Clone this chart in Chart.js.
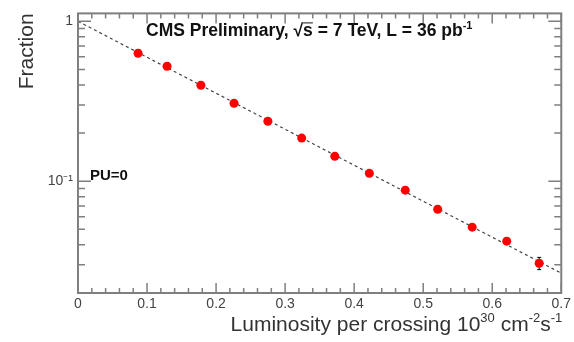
<!DOCTYPE html>
<html>
<head>
<meta charset="utf-8">
<script src="https://cdn.jsdelivr.net/npm/chart.js@4.4.1/dist/chart.umd.min.js"></script>
<style>
  html, body { margin:0; padding:0; background:#fff; }
  #wrap { width:574px; height:342px; }
</style>
</head>
<body>
<div id="wrap"><canvas id="c"></canvas></div>
<script>
// measured fraction of events vs. luminosity per crossing
const lumi    = [0.087, 0.129, 0.178, 0.226, 0.275, 0.324, 0.372, 0.422, 0.474, 0.521, 0.571, 0.621, 0.668];
const frac    = [0.631, 0.523, 0.398, 0.307, 0.237, 0.186, 0.143, 0.112, 0.0879, 0.0668, 0.0516, 0.0422, 0.0307];
const fracErr = [0.003, 0.003, 0.003, 0.002, 0.002, 0.002, 0.002, 0.002, 0.0015, 0.0015, 0.0015, 0.0015, 0.0027];

// exponential fit, end points only (straight on a log axis)
const fitLumi = [0.0, 0.7];
const fitFrac = [1.0, 0.0266];

// axis ticks
const yTickVals = [0.02, 0.03, 0.04, 0.05, 0.06, 0.07, 0.08, 0.09,
                   0.1, 0.2, 0.3, 0.4, 0.5, 0.6, 0.7, 0.8, 0.9, 1];
const yTickText = { '1':'1', '0.1':'10⁻¹' };

const FONT = '"Liberation Sans", Arial, Helvetica, sans-serif';
const frameClr = '#7f7f7f';

const isMajorX = v => Math.abs(v*10 - Math.round(v*10)) < 1e-6;
const isMajorY = v => Math.abs(Math.log10(v) - Math.round(Math.log10(v))) < 1e-6;

// draw text made of normal + superscript pieces
function richText(ctx, parts, x, y, size, weight, align) {
  const widths = parts.map(p => {
    ctx.font = `${weight} ${p.sup ? Math.round(size*0.6) : size}px ${FONT}`;
    return ctx.measureText(p.t).width;
  });
  const total = widths.reduce((a,b)=>a+b, 0);
  let cx = align === 'right' ? x - total : align === 'center' ? x - total/2 : x;
  ctx.textAlign = 'left';
  ctx.textBaseline = 'alphabetic';
  parts.forEach((p,i) => {
    ctx.font = `${weight} ${p.sup ? Math.round(size*0.6) : size}px ${FONT}`;
    ctx.fillText(p.t, cx, p.sup ? y - size*0.45 : y);
    if (p.bar) ctx.fillRect(cx, y - size*0.8, widths[i], 1);
    cx += widths[i];
  });
}

const framePlugin = {
  id:'frame',
  // error bars go under the markers
  beforeDatasetsDraw(chart) {
    const { ctx, scales:{ x, y } } = chart;
    ctx.save();
    ctx.strokeStyle = '#000'; ctx.lineWidth = 1;
    lumi.forEach((l,i) => {
      const px = x.getPixelForValue(l);
      const lo = y.getPixelForValue(frac[i] - fracErr[i]);
      const hi = y.getPixelForValue(frac[i] + fracErr[i]);
      ctx.beginPath();
      ctx.moveTo(px, lo); ctx.lineTo(px, hi);
      ctx.moveTo(px-2, lo); ctx.lineTo(px+2, lo);
      ctx.moveTo(px-2, hi); ctx.lineTo(px+2, hi);
      ctx.stroke();
    });
    ctx.restore();
  },
  afterDatasetsDraw(chart) {
    const { ctx, chartArea:a, scales:{ x, y } } = chart;
    ctx.save();

    // inward ticks on all four sides
    ctx.strokeStyle = frameClr; ctx.lineWidth = 1.5;
    ctx.beginPath();
    x.ticks.forEach(t => {
      const px = x.getPixelForValue(t.value);
      const len = isMajorX(t.value) ? 10 : 5;
      ctx.moveTo(px, a.bottom); ctx.lineTo(px, a.bottom - len);
      ctx.moveTo(px, a.top);    ctx.lineTo(px, a.top + len);
    });
    y.ticks.forEach(t => {
      const py = y.getPixelForValue(t.value);
      const len = isMajorY(t.value) ? 13 : 7;
      ctx.moveTo(a.left, py);  ctx.lineTo(a.left + len, py);
      ctx.moveTo(a.right, py); ctx.lineTo(a.right - len, py);
    });
    ctx.stroke();
    ctx.lineWidth = 2;
    ctx.strokeRect(a.left, a.top, a.width, a.height);

    // labels
    ctx.fillStyle = '#111';
    richText(ctx, [
      { t:'CMS Preliminary, √' }, { t:'s', bar:true }, { t:' = 7 TeV, L = 36 pb' }, { t:'-1', sup:true }
    ], a.left + 68, a.top + 23, 17.5, 'bold', 'left');
    richText(ctx, [{ t:'PU=0' }], a.left + 12, y.getPixelForValue(0.1) - 1, 15, 'bold', 'left');

    ctx.fillStyle = '#333';
    richText(ctx, [
      { t:'Luminosity per crossing 10' }, { t:'30', sup:true },
      { t:' cm' }, { t:'-2', sup:true }, { t:'s' }, { t:'-1', sup:true }
    ], a.right + 1, 331, 21, 'normal', 'right');

    ctx.translate(33, a.top);
    ctx.rotate(-Math.PI/2);
    richText(ctx, [{ t:'Fraction' }], 0, 0, 21, 'normal', 'right');
    ctx.restore();
  }
};

new Chart(document.getElementById('c'), {
  type:'scatter',
  data:{
    datasets:[
      { label:'data', data: lumi.map((l,i) => ({ x:l, y:frac[i] })),
        pointRadius:4.5, pointBackgroundColor:'#ff0000', pointBorderWidth:0,
        showLine:false, order:0 },
      { label:'fit', data: fitLumi.map((l,i) => ({ x:l, y:fitFrac[i] })),
        showLine:true, pointRadius:0, borderColor:'#444', borderWidth:1.2,
        borderDash:[3,3], order:1 },
    ]
  },
  options:{
    responsive:true, maintainAspectRatio:false, animation:false,
    layout:{ padding:{ top:13, right:12, left:0, bottom:0 } },
    plugins:{ legend:{ display:false }, tooltip:{ enabled:false } },
    scales:{
      x:{
        type:'linear', min:0, max:0.7,
        ticks:{ stepSize:0.02, autoSkip:false, maxRotation:0, padding:3,
                color:'#444', font:{ family:FONT, size:14 },
                callback: v => isMajorX(v) ? String(Math.round(v*10)/10) : '' },
        grid:{ display:false, drawTicks:false },
        border:{ display:false },
        afterFit: s => { s.height = 49; },
      },
      y:{
        type:'logarithmic', min:0.0200, max:1.12,
        afterBuildTicks: s => { s.ticks = yTickVals.map(v => ({ value:v })); },
        ticks:{ autoSkip:false, padding:5, color:'#444', font:{ family:FONT, size:14 },
                callback: v => yTickText[String(v)] ?? '' },
        grid:{ display:false, drawTicks:false },
        border:{ display:false },
        afterFit: s => { s.width = 78; },
      },
    },
  },
  plugins:[framePlugin],
});
</script>
</body>
</html>
